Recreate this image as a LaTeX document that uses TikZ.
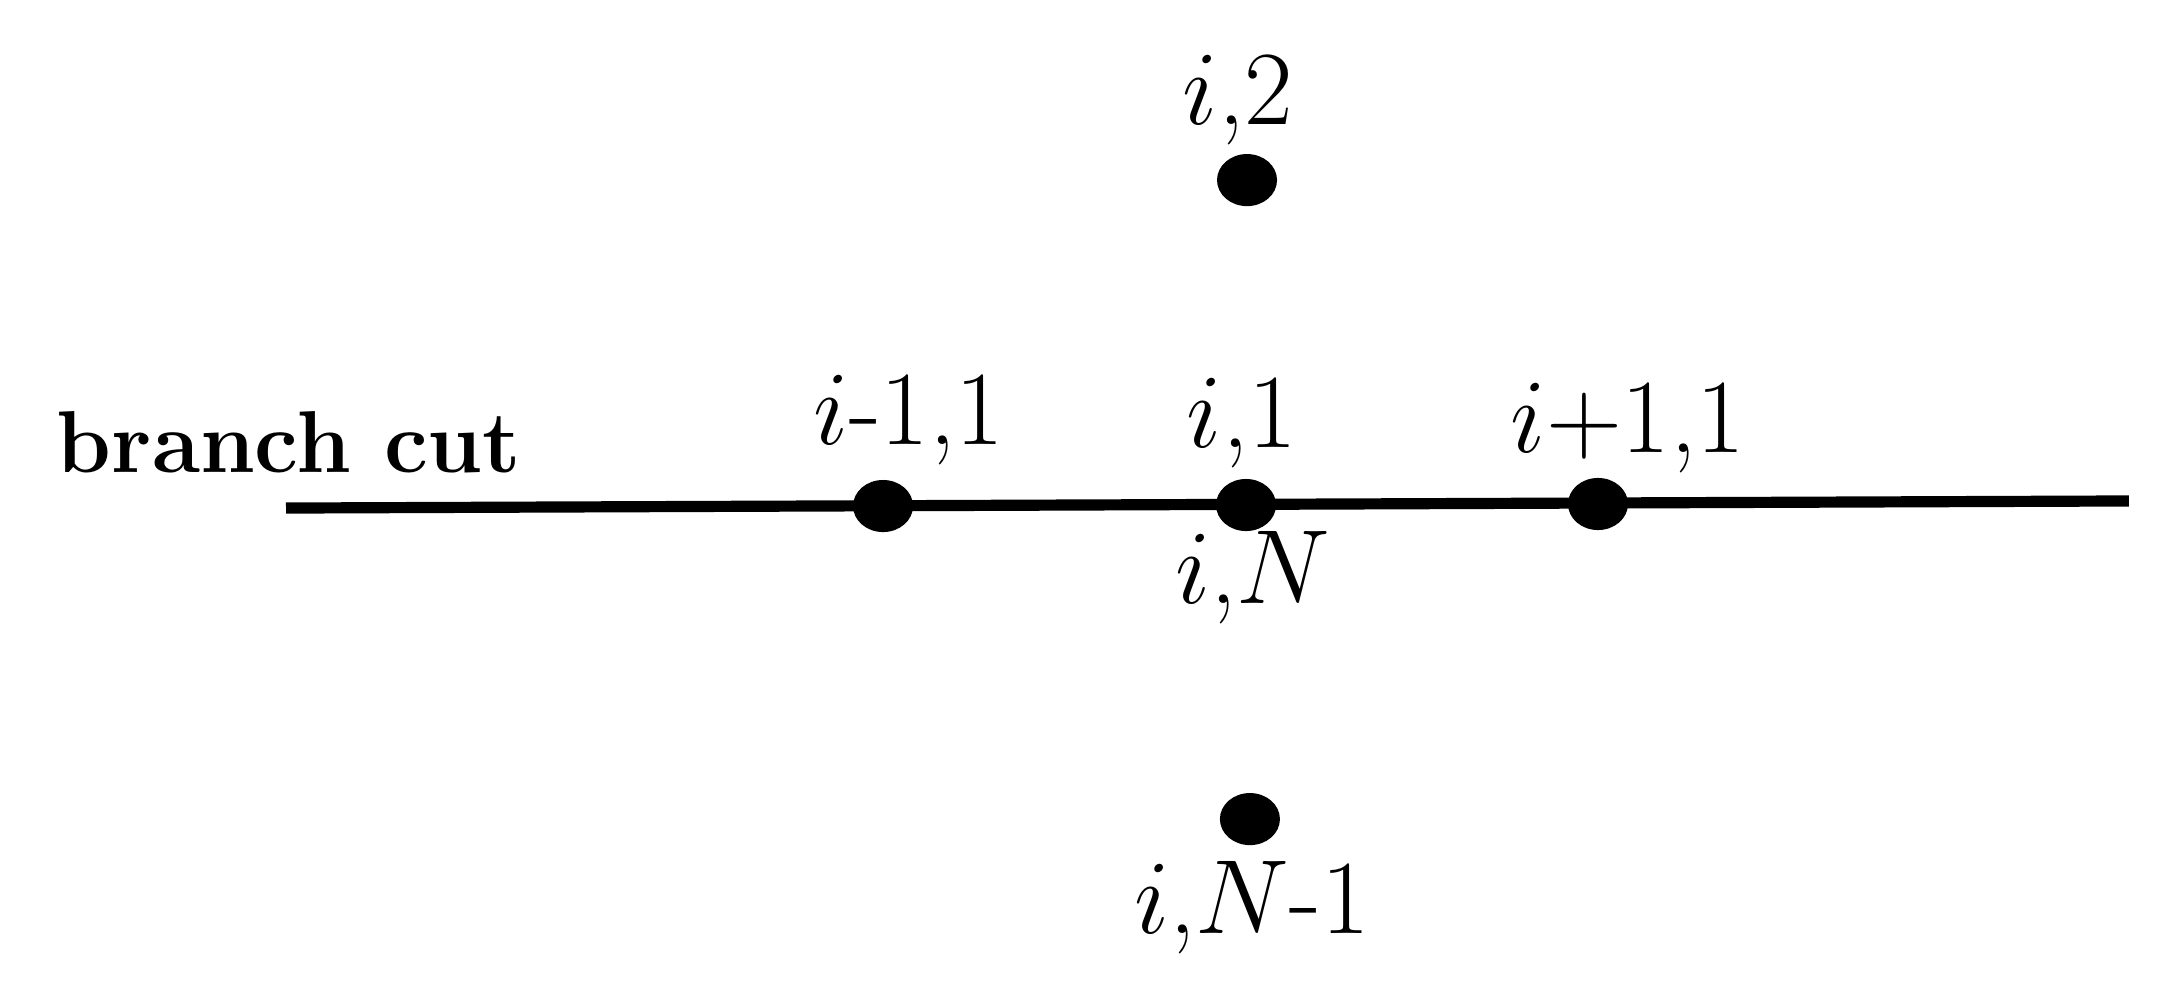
\documentclass[tikz,border=0pt]{standalone}
\usetikzlibrary{shapes.geometric}
\begin{document}
\begin{tikzpicture}[dot/.style={fill,ellipse,inner sep=0pt,minimum width=0.415cm,minimum height=0.36cm},
		lbl/.style={anchor=base,inner sep=0pt,font=\huge}]
		\useasboundingbox(0,0)rectangle(15,6.809);
		\coordinate(l)at(1.977,3.297);
		\coordinate(r)at(14.716,3.346);
		\draw[line width=2.2pt](l)--(r);
		\node[dot](im)at(6.104,3.311){};
		\node[dot](c)at(8.613,3.318){};
		\node[dot](ip)at(11.046,3.325){};
		\node[dot](up)at(8.620,5.564){};
		\node[dot](dn)at(8.640,1.147){};
		\node[lbl,font=\LARGE](cut)at(1.998,3.546){\textbf{branch cut}};
		\node[lbl](imlab)at(6.283,3.733){$i$-1,1};
		\node[lbl](clab)at(8.585,3.719){$i$,1};
		\node[lbl](iplab)at(11.253,3.684){$i$+1,1};
		\node[lbl](nlab)at(8.661,2.640){$i$,$N$};
		\node[lbl](uplab)at(8.557,5.945){$i$,2};
		\node[lbl](dnlab)at(8.654,0.359){$i$,$N$-1};
	\end{tikzpicture}
\end{document}
